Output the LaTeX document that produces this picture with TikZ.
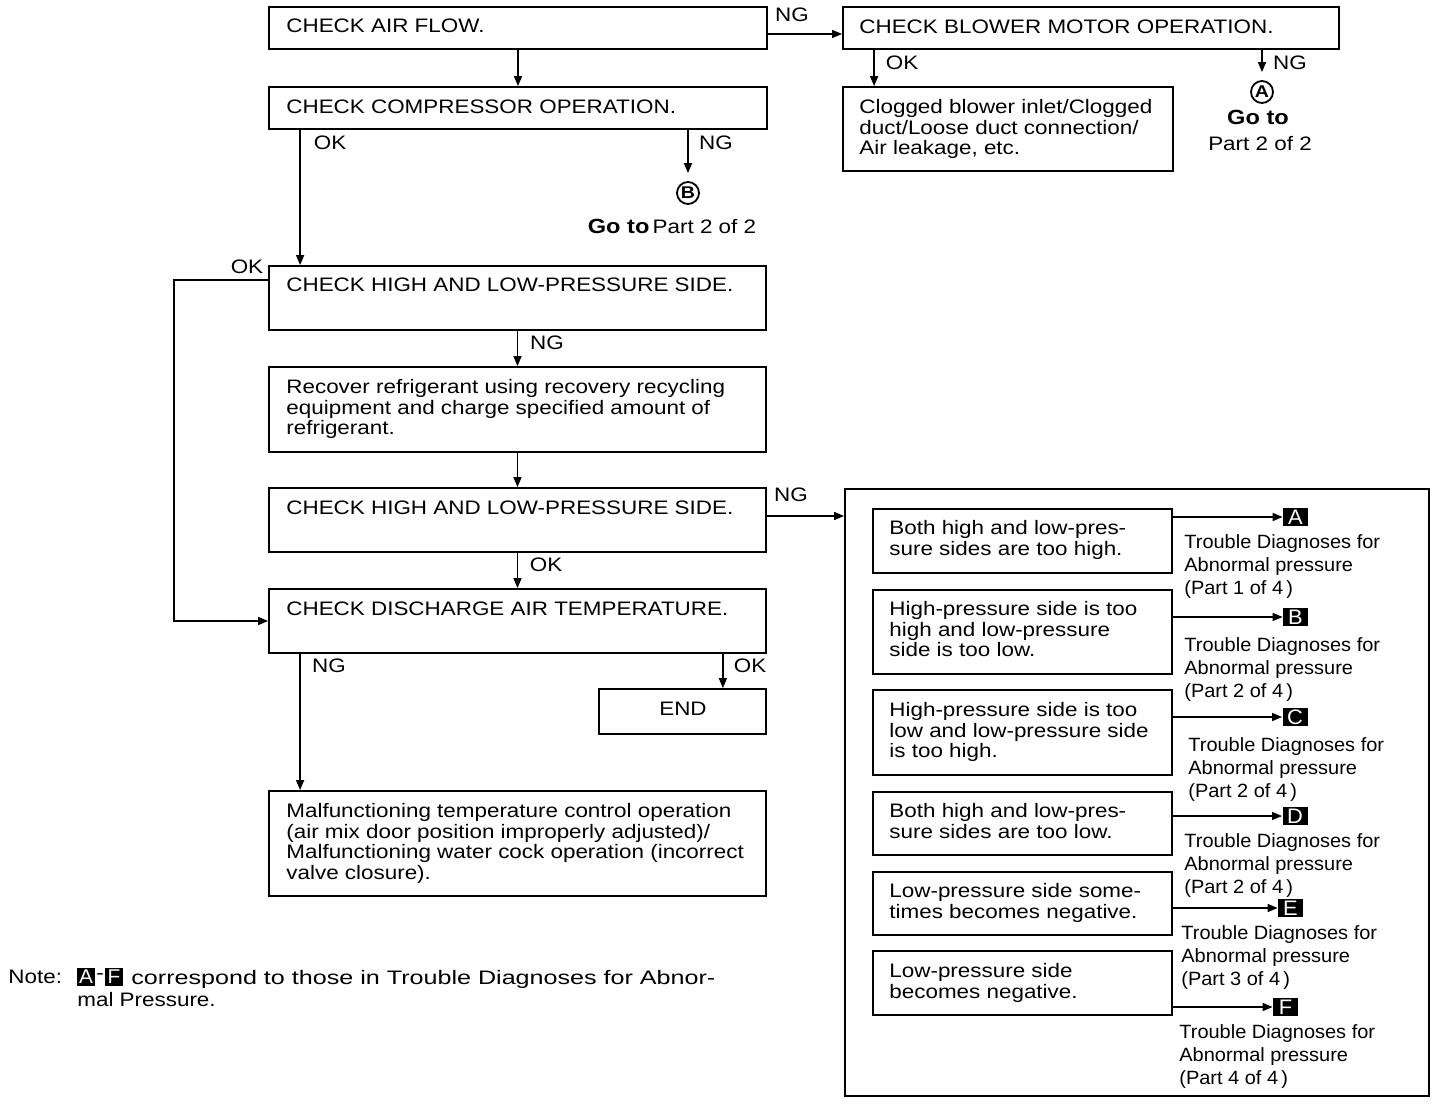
\documentclass[tikz,border=0pt]{standalone}
\usepackage{fontspec}
\usepackage{graphicx}
\setmainfont{Liberation Sans}[FakeStretch=1.15]
\newfontfamily\descfont{Liberation Sans}[FakeStretch=1.04]
\usetikzlibrary{arrows.meta,fit}
\begin{document}
\begin{tikzpicture}[x=0.5pt,y=-0.5pt,
 box/.style={draw, line width=0.9pt, inner sep=0pt},
 txt/.style={inner sep=0pt, anchor=north west, align=left, font=\fontsize{9.75}{10.25}\selectfont},
 desc/.style={inner sep=0pt, anchor=north west, align=left, font=\descfont\fontsize{9.6}{11.5}\selectfont},
 lbl/.style={inner sep=0pt, font=\fontsize{9.75}{10.25}\selectfont},
 arr/.style={line width=0.75pt, -{Triangle[length=5pt,width=4pt]}},
 tag/.style={fill=black, text=white, inner sep=0pt, minimum width=12.5pt, minimum height=9pt, font=\descfont\fontsize{10.5}{10}\selectfont},
 ntag/.style={fill=black, text=white, inner sep=0pt, minimum width=9pt, minimum height=9pt, font=\descfont\fontsize{10}{10}\selectfont},
 circ/.style={circle, draw, line width=0.9pt, inner sep=0pt, minimum size=11pt, font=\fontsize{8.5}{8.5}\selectfont\bfseries},
]
\useasboundingbox (0,0) rectangle (1440,1106);

% ---- boxes ----
\node[box, fit={(269,7)(767,49)}] (airflow) {};
\node[box, fit={(269,87)(767,129)}] (comp) {};
\node[box, fit={(843,7)(1339,49)}] (blower) {};
\node[box, fit={(843,87)(1173,171)}] (clog) {};
\node[box, fit={(269,266)(766,330)}] (hl1) {};
\node[box, fit={(269,367)(766,452)}] (rec) {};
\node[box, fit={(269,488)(766,552)}] (hl2) {};
\node[box, fit={(269,589)(766,653)}] (disc) {};
\node[box, fit={(599,689)(766,734)}] (endb) {};
\node[box, fit={(269,791)(766,896)}] (mal) {};
\node[box, fit={(845,489)(1429,1096)}] (big) {};
\node[box, fit={(873,509)(1172,573)}] (i1) {};
\node[box, fit={(873,590)(1172,674)}] (i2) {};
\node[box, fit={(873,690)(1172,775)}] (i3) {};
\node[box, fit={(873,792)(1172,855)}] (i4) {};
\node[box, fit={(873,872)(1172,935)}] (i5) {};
\node[box, fit={(873,951)(1172,1015)}] (i6) {};

% ---- box texts ----
\node[txt] (airflowT) at (286,18) {CHECK AIR FLOW.};
\node[txt] (compT) at (286,99) {CHECK COMPRESSOR OPERATION.};
\node[txt] (blowT) at (859,19) {CHECK BLOWER MOTOR OPERATION.};
\node[txt] (clogT) at (859,99) {Clogged blower inlet/Clogged\\duct/Loose duct connection/\\Air leakage, etc.};
\node[txt] (hl1T) at (286,277) {CHECK HIGH AND LOW-PRESSURE SIDE.};
\node[txt] (recT) at (286,379) {Recover refrigerant using recovery recycling\\equipment and charge specified amount of\\refrigerant.};
\node[txt] (hl2T) at (286,500) {CHECK HIGH AND LOW-PRESSURE SIDE.};
\node[txt] (discT) at (286,601) {CHECK DISCHARGE AIR TEMPERATURE.};
\node[lbl] (endT) at (683,709) {END};
\node[txt] (malT) at (286,803) {Malfunctioning temperature control operation\\(air mix door position improperly adjusted)/\\Malfunctioning water cock operation (incorrect\\valve closure).};
\node[txt] (i1T) at (889,520) {Both high and low-pres-\\sure sides are too high.};
\node[txt] (i2T) at (889,601) {High-pressure side is too\\high and low-pressure\\side is too low.};
\node[txt] (i3T) at (889,702) {High-pressure side is too\\low and low-pressure side\\is too high.};
\node[txt] (i4T) at (889,803) {Both high and low-pres-\\sure sides are too low.};
\node[txt] (i5T) at (889,883) {Low-pressure side some-\\times becomes negative.};
\node[txt] (i6T) at (889,963) {Low-pressure side\\becomes negative.};

% ---- tags ----
\node[tag] (tA) at (1295.5,517) {A};
\node[tag] (tB) at (1295.5,617) {B};
\node[tag] (tC) at (1295,717) {C};
\node[tag] (tD) at (1295,816) {D};
\node[tag] (tE) at (1290.5,908) {E};
\node[tag] (tF) at (1285.5,1007) {F};

\node[desc] (dA) at (1184,534) {Trouble Diagnoses for\\Abnormal pressure\\(Part 1 of 4\,)};
\node[desc] (dB) at (1184,637) {Trouble Diagnoses for\\Abnormal pressure\\(Part 2 of 4\,)};
\node[desc] (dC) at (1188,737) {Trouble Diagnoses for\\Abnormal pressure\\(Part 2 of 4\,)};
\node[desc] (dD) at (1184,833) {Trouble Diagnoses for\\Abnormal pressure\\(Part 2 of 4\,)};
\node[desc] (dE) at (1181,925) {Trouble Diagnoses for\\Abnormal pressure\\(Part 3 of 4\,)};
\node[desc] (dF) at (1179,1024) {Trouble Diagnoses for\\Abnormal pressure\\(Part 4 of 4\,)};

% ---- circled refs ----
\node[circ] (cA) at (1262,92) {A};
\node[lbl, font=\fontsize{10.25}{10.25}\selectfont\bfseries] (goA) at (1258,117) {Go to};
\node[lbl] (ptA) at (1260,144) {Part 2 of 2};
\node[circ] (cB) at (688,193) {B};
\node[lbl] (goB) at (672,226) {{\fontsize{10.25}{10.25}\selectfont\bfseries Go to}\,Part 2 of 2};

% ---- connectors ----
\draw[arr] ([yshift=-3pt]airflow.east) -- ([yshift=-3pt]blower.west);
\draw[arr] (airflow.south) -- (comp.north);
\draw[arr] ([xshift=16pt]blower.south west) -- ([xshift=16pt]clog.north west);
\draw[arr, shorten >=4pt] (cA |- blower.south) -- (cA.north);
\draw[arr] ([xshift=16pt]comp.south west) -- ([xshift=16pt]hl1.north west);
\draw[arr, shorten >=4pt] (cB |- comp.south) -- (cB.north);
\draw[arr] ([yshift=-7.5pt]hl1.north west) -- ++(-94,0) |- (disc.west);
\draw[arr] (hl1.south) -- (rec.north);
\draw[arr] (rec.south) -- (hl2.north);
\draw[arr] ([yshift=2pt]hl2.east) -- ([yshift=2pt]hl2.east -| big.west);
\draw[arr] (hl2.south) -- (disc.north);
\draw[arr] ([xshift=16pt]disc.south west) -- ([xshift=16pt]mal.north west);
\draw[arr] ([xshift=-22pt]endb.north east |- disc.south) -- ([xshift=-22pt]endb.north east);
\draw[arr] (i1.east |- tA) -- (tA.west);
\draw[arr] (i2.east |- tB) -- (tB.west);
\draw[arr] (i3.east |- tC) -- (tC.west);
\draw[arr] (i4.east |- tD) -- (tD.west);
\draw[arr] (i5.east |- tE) -- (tE.west);
\draw[arr] (i6.east |- tF) -- (tF.west);

% ---- connector labels ----
\node[lbl] (l1) at (792,15) {NG};
\node[lbl] (l2) at (902,63) {OK};
\node[lbl] (l3) at (1290,63) {NG};
\node[lbl] (l4) at (330,143) {OK};
\node[lbl] (l5) at (716,143) {NG};
\node[lbl] (l6) at (247,267) {OK};
\node[lbl] (l7) at (547,343) {NG};
\node[lbl] (l8) at (791,495) {NG};
\node[lbl] (l9) at (546,565) {OK};
\node[lbl] (l10) at (329,666) {NG};
\node[lbl] (l11) at (750,666) {OK};

% ---- note ----
\node[txt] (noteT) at (8,970) {Note:};
\node[ntag] (nA) at (86,977) {A};
\node[ntag] (nF) at (114,977) {F};
\node[lbl] (ndash) at (100,977) {-};
\node[txt] (note1) at (131,970) {\scalebox{1.12}[1]{correspond to those in Trouble Diagnoses for Abnor-}};
\node[txt] (note2) at (77,992) {mal Pressure.};
\end{tikzpicture}
\end{document}
